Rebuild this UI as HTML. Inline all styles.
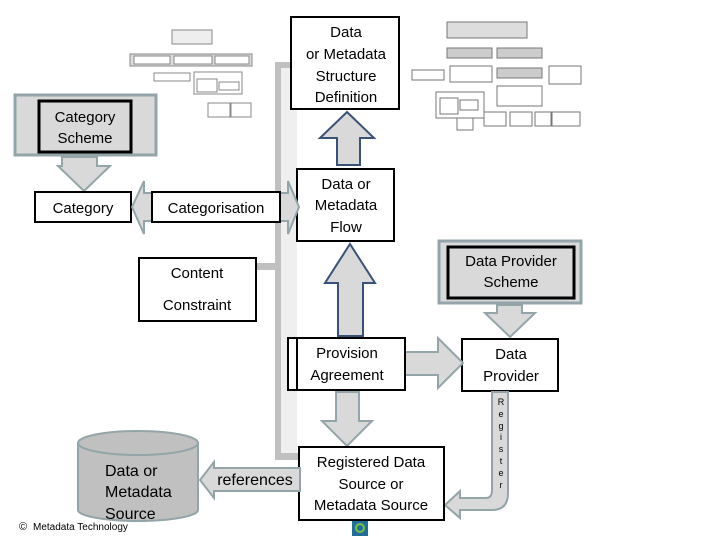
<!DOCTYPE html>
<html><head><meta charset="utf-8"><style>
html,body{margin:0;padding:0;background:#fff;}
svg{display:block;font-family:"Liberation Sans",sans-serif;}
</style></head><body>
<svg width="720" height="540" viewBox="0 0 720 540" xmlns="http://www.w3.org/2000/svg">
<!-- vertical bar -->
<path d="M297,62 L275,62 L275,460 L300,460 L300,453 L281,453 L281,68 L297,68 Z" fill="#c0c0c0"/>
<rect x="281" y="68" width="16" height="385" fill="#efefef"/>
<rect x="256" y="263" width="25" height="7" fill="#c0c0c0"/>

<!-- thumbnail 1 -->
<g stroke="#888" stroke-width="1" fill="#fff" font-size="4" >
<rect x="172" y="30" width="40" height="14" fill="#eee"/>
<rect x="130" y="54" width="122" height="12" fill="#ddd"/>
<rect x="134" y="56" width="36" height="8"/><rect x="174" y="56" width="38" height="8"/><rect x="215" y="56" width="34" height="8"/>
<rect x="154" y="73" width="36" height="8"/><rect x="194" y="72" width="48" height="22"/>
<rect x="197" y="79" width="20" height="13"/><rect x="219" y="82" width="20" height="8"/>
<rect x="208" y="103" width="22" height="14"/><rect x="231" y="103" width="20" height="14"/>
</g>
<!-- thumbnail 2 -->
<g stroke="#777" stroke-width="1" fill="#fff">
<rect x="447" y="22" width="80" height="16" fill="#ddd"/>
<rect x="447" y="48" width="45" height="10" fill="#ccc"/><rect x="497" y="48" width="45" height="10" fill="#ccc"/>
<rect x="412" y="70" width="32" height="10"/><rect x="450" y="66" width="42" height="16"/>
<rect x="497" y="68" width="45" height="10" fill="#ccc"/><rect x="549" y="66" width="32" height="18"/>
<rect x="436" y="92" width="48" height="26"/><rect x="440" y="98" width="18" height="16"/><rect x="460" y="100" width="18" height="10"/>
<rect x="497" y="86" width="45" height="20"/>
<rect x="457" y="118" width="16" height="12"/>
<rect x="484" y="112" width="22" height="14"/><rect x="510" y="112" width="22" height="14"/><rect x="535" y="112" width="16" height="14"/><rect x="552" y="112" width="28" height="14"/>
</g>

<!-- DSD -->
<rect x="291" y="17" width="108" height="92" fill="#fff" stroke="#000" stroke-width="2"/>
<g font-size="15" text-anchor="middle" fill="#000">
<text x="346" y="37">Data</text><text x="346" y="59">or Metadata</text><text x="346" y="81">Structure</text><text x="346" y="102">Definition</text>
</g>
<!-- arrow flow->dsd -->
<path d="M347,112 L374,138 L360,138 L360,165 L337,165 L337,138 L320,138 Z" fill="#d9d9d9" stroke="#3b5278" stroke-width="2"/>

<!-- Flow -->
<rect x="297" y="169" width="97" height="72" fill="#fff" stroke="#000" stroke-width="2"/>
<g font-size="15" text-anchor="middle"><text x="346" y="189">Data or</text><text x="346" y="210">Metadata</text><text x="346" y="232">Flow</text></g>
<!-- arrow provision->flow -->
<path d="M350,244 L375,283 L363,283 L363,336 L338,336 L338,283 L325,283 Z" fill="#d9d9d9" stroke="#3b5278" stroke-width="2"/>

<!-- Category scheme -->
<rect x="15" y="95" width="141" height="60" fill="#d9d9d9" stroke="#93a5a8" stroke-width="3"/>
<rect x="39" y="101" width="92" height="51" fill="#d9d9d9" stroke="#000" stroke-width="3"/>
<g font-size="15" text-anchor="middle"><text x="85" y="122">Category</text><text x="85" y="143">Scheme</text></g>
<path d="M62,157 L97,157 L97,166 L110,166 L84,191 L58,166 L62,166 Z" fill="#d9d9d9" stroke="#93a5a8" stroke-width="2"/>

<!-- Category -->
<rect x="35" y="192" width="96" height="30" fill="#fff" stroke="#000" stroke-width="2"/>
<text x="83" y="213" font-size="15" text-anchor="middle">Category</text>
<!-- double arrow -->
<path d="M132,207 L144,181 L144,193 L288,193 L288,181 L299,207 L288,234 L288,221 L144,221 L144,234 Z" fill="#d9d9d9" stroke="#93a5a8" stroke-width="2"/>
<rect x="152" y="192" width="128" height="30" fill="#fff" stroke="#000" stroke-width="2"/>
<text x="216" y="213" font-size="15" text-anchor="middle">Categorisation</text>

<!-- Content constraint -->
<rect x="139" y="258" width="117" height="63" fill="#fff" stroke="#000" stroke-width="2"/>
<g font-size="15" text-anchor="middle"><text x="197" y="278">Content</text><text x="197" y="310">Constraint</text></g>

<!-- Data Provider Scheme -->
<rect x="439" y="241" width="142" height="62" fill="#d9d9d9" stroke="#93a5a8" stroke-width="3"/>
<rect x="448" y="247" width="126" height="51" fill="#d9d9d9" stroke="#000" stroke-width="3"/>
<g font-size="15" text-anchor="middle"><text x="511" y="266">Data Provider</text><text x="511" y="287">Scheme</text></g>
<path d="M497,305 L522,305 L522,313 L535,313 L510,337 L485,313 L497,313 Z" fill="#d9d9d9" stroke="#93a5a8" stroke-width="2"/>

<!-- Data provider -->
<rect x="462" y="339" width="96" height="52" fill="#fff" stroke="#000" stroke-width="2"/>
<g font-size="15" text-anchor="middle"><text x="511" y="359">Data</text><text x="511" y="381">Provider</text></g>

<!-- Provision -->
<path d="M404,352 L438,352 L438,338 L463,363 L438,388 L438,375 L404,375 Z" fill="#d9d9d9" stroke="#93a5a8" stroke-width="2"/>
<rect x="288" y="338" width="117" height="52" fill="#fff" stroke="#000" stroke-width="2"/>
<line x1="297" y1="338" x2="297" y2="390" stroke="#000" stroke-width="2"/>
<g font-size="15" text-anchor="middle"><text x="347" y="358">Provision</text><text x="347" y="380">Agreement</text></g>

<!-- down arrow provision->registered -->
<path d="M336,392 L359,392 L359,421 L372,421 L347,446 L322,421 L336,421 Z" fill="#d9d9d9" stroke="#93a5a8" stroke-width="2"/>

<!-- Register curved arrow -->
<path d="M492,392 L508,392 L508,493 Q508,510 492,510 L460,510 L460,518 L445,505 L460,491 L460,498 L486,498 Q492,498 492,490 Z" fill="#d9d9d9" stroke="#93a5a8" stroke-width="2"/>
<g font-size="9" text-anchor="middle"><text x="501" y="405">R</text><text x="501" y="417">e</text><text x="501" y="429">g</text><text x="501" y="440">i</text><text x="501" y="452">s</text><text x="501" y="464">t</text><text x="501" y="476">e</text><text x="501" y="488">r</text></g>

<!-- Registered -->
<rect x="299" y="447" width="145" height="73" fill="#fff" stroke="#000" stroke-width="2"/>
<g font-size="15" text-anchor="middle"><text x="371" y="467">Registered Data</text><text x="371" y="489">Source or</text><text x="371" y="510">Metadata Source</text></g>
<rect x="352" y="521" width="16" height="15" fill="#1f6f9a"/>
<circle cx="360" cy="528" r="4" fill="none" stroke="#7cc242" stroke-width="2"/>

<!-- references arrow -->
<path d="M200,480 L214,462 L214,468 L300,468 L300,491 L214,491 L214,498 Z" fill="#d9d9d9" stroke="#93a5a8" stroke-width="2"/>
<text x="255" y="485" font-size="16" text-anchor="middle">references</text>

<!-- cylinder -->
<path d="M78,443 L78,510 A60,11 0 0 0 198,510 L198,443 Z" fill="#c0c0c0" stroke="#93a5a8" stroke-width="2"/>
<ellipse cx="138" cy="443" rx="60" ry="12" fill="#c0c0c0" stroke="#93a5a8" stroke-width="2"/>
<g font-size="16"><text x="105" y="476">Data or</text><text x="105" y="497">Metadata</text><text x="105" y="519">Source</text></g>
<text x="19" y="530" font-size="11">©</text>
<text x="33" y="530" font-size="10">Metadata Technology</text>
</svg>
</body></html>
